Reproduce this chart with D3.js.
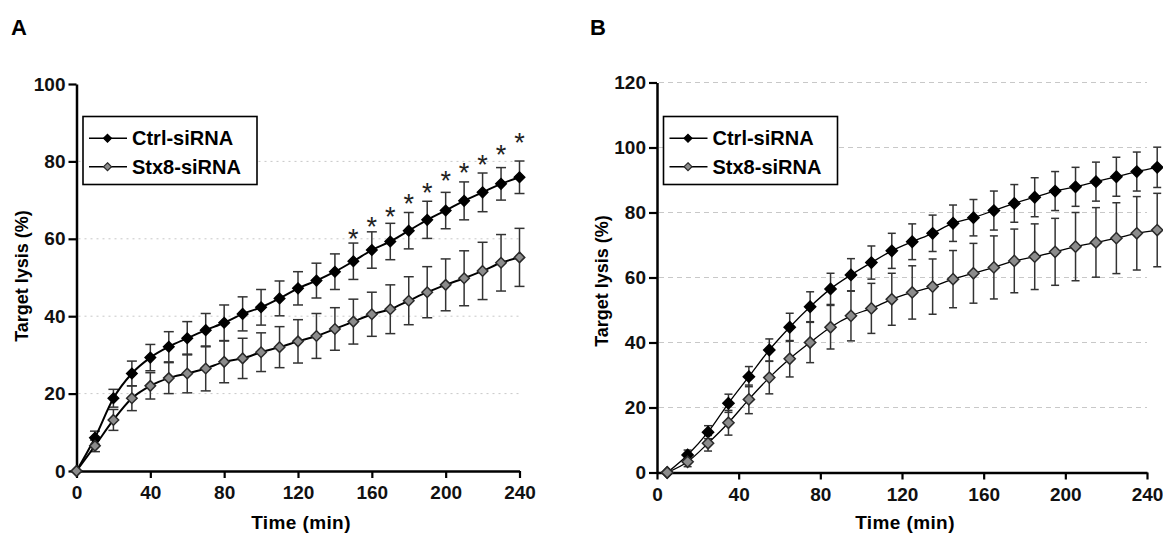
<!DOCTYPE html>
<html><head><meta charset="utf-8">
<script src="https://cdn.jsdelivr.net/npm/d3@7"></script>
<style>body{margin:0;background:#fff}svg{display:block;font-family:"Liberation Sans",Arial,sans-serif}</style>
</head><body><svg id="c" width="1163" height="537"></svg>
<script>
const timeA = [0,10,20,30,40,50,60,70,80,90,100,110,120,130,140,150,160,170,180,190,200,210,220,230,240];
const ctrlA = [0,8.6,18.8,25.2,29.3,32.1,34.3,36.4,38.3,40.6,42.3,44.6,47.2,49.2,51.5,54.2,57.1,59.3,62.1,64.9,67.3,69.8,72.0,74.2,75.9];
const ctrlAErr = [0,1.7,2.3,3.2,3.4,3.9,4.3,4.3,4.6,4.4,4.6,4.5,4.3,4.5,4.6,4.7,4.7,4.7,4.7,4.8,4.7,4.9,5.0,4.2,4.2];
const stxA = [0,6.5,13.2,18.8,22.0,24.0,25.2,26.5,28.2,29.1,30.7,32.0,33.5,34.9,36.7,38.6,40.5,41.8,44.0,46.2,48.1,49.8,51.7,53.8,55.2];
const stxAErr = [0,1.5,2.7,3.2,3.4,4.0,5.0,5.8,5.4,5.2,5.0,5.3,5.6,5.8,5.5,5.8,5.7,6.3,6.2,6.6,6.7,7.1,7.4,7.3,7.5];
const sigTimesA = [150,160,170,180,190,200,210,220,230,240];
const sigLevelsA = [61.6,64.6,67.4,70.6,73.5,76.5,78.6,80.8,83.4,86.4];

const timeB = [5,15,25,35,45,55,65,75,85,95,105,115,125,135,145,155,165,175,185,195,205,215,225,235,245];
const ctrlB = [0,5.4,12.4,21.3,29.5,37.7,44.7,51.0,56.5,60.8,64.6,68.2,71.0,73.6,76.7,78.4,80.6,82.8,84.7,86.6,87.9,89.5,91.0,92.6,93.9];
const ctrlBErr = [0,1.5,2.0,2.8,3.1,3.4,4.3,4.6,4.8,5.0,5.1,5.4,5.5,5.6,5.6,5.6,6.0,5.8,6.0,6.0,6.0,6.0,6.0,6.0,6.2];
const stxB = [0,3.3,9.0,15.3,22.5,29.2,35.0,40.0,44.7,48.2,50.5,53.3,55.4,57.2,59.5,61.3,63.1,65.1,66.4,67.9,69.5,70.8,72.1,73.6,74.6];
const stxBErr = [0,1.5,2.4,3.8,4.4,5.0,5.6,6.2,6.7,7.7,7.7,8.0,8.2,8.5,8.8,9.2,9.7,9.8,10.1,10.3,10.5,10.7,10.9,11.3,11.3];

const xTicks = [0,40,80,120,160,200,240];
const yTicksA = [0,20,40,60,80,100];
const yTicksB = [0,20,40,60,80,100,120];
const seriesNames = ["Ctrl-siRNA","Stx8-siRNA"];
const panelLabels = ["A","B"];
const xTitle = "Time (min)";
const yTitle = "Target lysis (%)";

const svg = d3.select("#c");

function panel(opt){
  const g = svg.append("g");
  const x = d3.scaleLinear().domain([0,240]).range([opt.x0,opt.x1]);
  const y = d3.scaleLinear().domain([0,opt.ymax]).range([opt.y0,opt.y1]);
  g.append("text").attr("x",opt.labelX).attr("y",35).attr("font-size",22).attr("font-weight","bold").text(opt.label);
  g.selectAll("line.grid").data(opt.grid).join("line")
    .attr("x1",opt.x0+2).attr("x2",opt.gridEnd).attr("y1",d=>y(d)).attr("y2",d=>y(d))
    .attr("stroke","#c8c8c8").attr("stroke-width",1).attr("stroke-dasharray",opt.dash);
  const xa = g.append("g").attr("transform",`translate(0,${opt.y0})`)
    .call(d3.axisBottom(x).tickValues(xTicks).tickSize(7).tickSizeOuter(0).tickPadding(8));
  const ya = g.append("g").attr("transform",`translate(${opt.x0},0)`)
    .call(d3.axisLeft(y).tickValues(opt.yticks).tickSize(8).tickSizeOuter(0).tickPadding(3));
  [xa,ya].forEach(a=>{
    a.select(".domain").attr("stroke","#000").attr("stroke-width",2.5);
    a.selectAll(".tick line").attr("stroke","#000").attr("stroke-width",2.2);
    a.selectAll(".tick text").attr("font-size",19).attr("font-weight","bold").attr("fill","#111")
      .attr("font-family","Liberation Sans, Arial, sans-serif");
  });
  g.append("text").attr("x",(opt.x0+opt.x1)/2+3).attr("y",529).attr("text-anchor","middle")
    .attr("font-size",19).attr("font-weight","bold").attr("letter-spacing",0.4).text(xTitle);
  g.append("text").attr("transform",`translate(${opt.ytitleX},${opt.ytitleY}) rotate(-90)`)
    .attr("text-anchor","middle").attr("font-size",18).attr("font-weight","bold").text(yTitle);

  const series = [
    {t:opt.time, v:opt.ctrl, e:opt.ctrlErr, fill:"#000", stroke:"#000"},
    {t:opt.time, v:opt.stx, e:opt.stxErr, fill:"#8c8c8c", stroke:"#2a2a2a"}
  ];
  const cap = opt.cap;
  series.forEach(s=>{
    const pts = s.t.map((t,i)=>({t, v:s.v[i], e:s.e[i]}));
    const eb = g.append("g");
    pts.filter(p=>p.e>0).forEach(p=>{
      const cx = x(p.t);
      eb.append("line").attr("x1",cx).attr("x2",cx).attr("y1",y(p.v-p.e)).attr("y2",y(p.v+p.e)).attr("stroke","#333").attr("stroke-width",1.5);
      [p.v-p.e,p.v+p.e].forEach(vv=>eb.append("line").attr("x1",cx-cap).attr("x2",cx+cap).attr("y1",y(vv)).attr("y2",y(vv)).attr("stroke","#333").attr("stroke-width",1.5));
    });
    s.pts = pts;
  });
  series.forEach(s=>{
    g.append("path").datum(s.pts)
      .attr("d",d3.line().x(p=>x(p.t)).y(p=>y(p.v)).curve(d3.curveMonotoneX))
      .attr("fill","none").attr("stroke","#000").attr("stroke-width",opt.lw);
  });
  const diamond = d3.symbol().type(d3.symbolDiamond2).size(opt.msize);
  series.forEach(s=>{
    g.selectAll(null).data(s.pts).join("path")
      .attr("d",diamond).attr("transform",p=>`translate(${x(p.t)},${y(p.v)})`)
      .attr("fill",s.fill).attr("stroke",s.stroke).attr("stroke-width",1.5);
  });
  if(opt.sig){
    opt.sig.forEach((t,i)=>{
      g.append("text").attr("x",x(t)).attr("y",y(opt.sigLevels[i])+15.5).attr("text-anchor","middle")
        .attr("font-size",27).attr("fill","#222").text("*");
    });
  }
  const L = g.append("g");
  L.append("rect").attr("x",opt.legX).attr("y",116.5).attr("width",174).attr("height",68)
    .attr("fill","#fff").attr("stroke","#000").attr("stroke-width",1.6);
  series.forEach((s,i)=>{
    const yy = 138.3 + i*28.4;
    L.append("line").attr("x1",opt.legX+6).attr("x2",opt.legX+44).attr("y1",yy).attr("y2",yy).attr("stroke","#000").attr("stroke-width",1.5);
    L.append("path").attr("d",d3.symbol().type(d3.symbolDiamond2).size(40)).attr("transform",`translate(${opt.legX+24.5},${yy})`)
      .attr("fill",s.fill).attr("stroke",s.stroke).attr("stroke-width",1.2);
    L.append("text").attr("x",opt.legX+49).attr("y",yy+7).attr("font-size",20).attr("font-weight","bold").text(seriesNames[i]);
  });
}

panel({label:panelLabels[0],labelX:11,x0:76.5,x1:519.5,y0:471,y1:84,ymax:100,yticks:yTicksA,grid:[20,40,60,80],gridEnd:519,
  dash:"2,4",ytitleX:28,ytitleY:276,time:timeA,ctrl:ctrlA,ctrlErr:ctrlAErr,stx:stxA,stxErr:stxAErr,cap:5,lw:2,msize:70,
  sig:sigTimesA,sigLevels:sigLevelsA,legX:83});
panel({label:panelLabels[1],labelX:590,x0:657,x1:1147,y0:472.5,y1:82.5,ymax:120,yticks:yTicksB,grid:[20,40,60,80,100,120],gridEnd:1147,
  dash:"5,4",ytitleX:608,ytitleY:281,time:timeB,ctrl:ctrlB,ctrlErr:ctrlBErr,stx:stxB,stxErr:stxBErr,cap:4,lw:1.3,msize:80,sig:null,legX:663.5});
</script></body></html>
